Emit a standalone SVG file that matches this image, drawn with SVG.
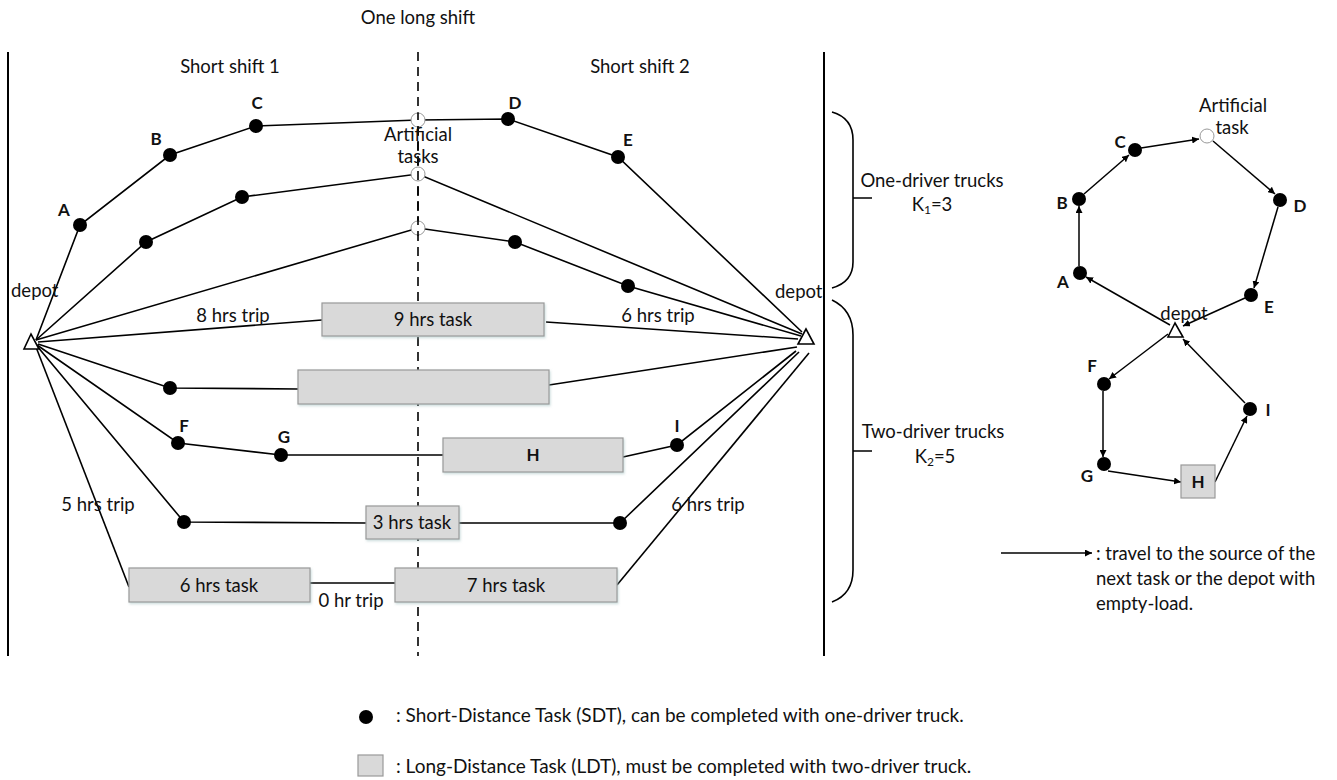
<svg xmlns="http://www.w3.org/2000/svg" width="1337" height="780" viewBox="0 0 1337 780">
<defs>
<marker id="arr" viewBox="0 0 10 10" refX="10" refY="5" markerWidth="7" markerHeight="7" markerUnits="userSpaceOnUse" orient="auto"><path d="M0,0 L10,5 L0,10 Z" fill="#000"/></marker>
<filter id="sh" x="-10%" y="-10%" width="130%" height="140%"><feDropShadow dx="1" dy="1.5" stdDeviation="1" flood-color="#9bb" flood-opacity="0.5"/></filter>
</defs>
<style>
text{font-family:Lato,"Open Sans","Liberation Sans",sans-serif;font-size:18.5px;fill:#111}
.c{text-anchor:middle}
.b{font-weight:bold;font-size:17px}
.s{font-size:19px}
.ln{stroke:#000;stroke-width:1.6;fill:none}
.bar{stroke:#000;stroke-width:2;fill:none}
.dash{stroke:#000;stroke-width:1.6;stroke-dasharray:9,6;fill:none}
.dot{fill:#000}
.art{fill:#fff;stroke:#999;stroke-width:1}
.box{fill:#d9d9d9;stroke:#999;stroke-width:1.2}
.tri{fill:#fff;stroke:#000;stroke-width:1.6}
.ar{stroke:#000;stroke-width:1.5;fill:none;marker-end:url(#arr)}
</style>
<rect width="1337" height="780" fill="#fff"/>

<g id="frame">
<line class="bar" x1="8" y1="52" x2="8" y2="656"/>
<line class="bar" x1="824" y1="52" x2="824" y2="656"/>
<line class="dash" x1="418" y1="52" x2="418" y2="656"/>
<text class="c" x="418" y="24">One long shift</text>
<text class="c" x="230" y="73">Short shift 1</text>
<text class="c" x="640" y="73">Short shift 2</text>
</g>

<g id="connectors">
<polyline class="ln" points="36,340 80,225 170,155 256,126 418,120 508,119 618,157 802,332"/>
<polyline class="ln" points="36,340 146,242 242,197 418,174 802,334"/>
<polyline class="ln" points="36,340 418,228 515,242 628,286 801,336"/>
<polyline class="ln" points="38,342 322,320"/>
<polyline class="ln" points="546,322 798,339"/>
<polyline class="ln" points="38,344 170,388 298,389"/>
<polyline class="ln" points="549,385 797,347"/>
<polyline class="ln" points="37,345 178,443 281,455 443,455"/>
<polyline class="ln" points="623,457 677,445 796,351"/>
<polyline class="ln" points="37,346 184,522 366,523"/>
<polyline class="ln" points="459,523 620,523 799,352"/>
<polyline class="ln" points="36,347 129,587"/>
<polyline class="ln" points="310,583 395,583"/>
<polyline class="ln" points="617,585 809,353"/>
</g>

<g id="depot-left"><polygon class="tri" points="31,334 24,349 39,349"/><text x="11" y="297">depot</text></g>
<g id="depot-right"><polygon class="tri" points="806,329 798,344 814,344"/><text x="775" y="298">depot</text></g>

<g id="node-A"><circle class="dot" cx="80" cy="225" r="7"/><text class="c b" x="64" y="216">A</text></g>
<g id="node-B"><circle class="dot" cx="170" cy="155" r="7"/><text class="c b" x="156" y="145">B</text></g>
<g id="node-C"><circle class="dot" cx="256" cy="126" r="7"/><text class="c b" x="257" y="109">C</text></g>
<g id="node-D"><circle class="dot" cx="508" cy="119" r="7"/><text class="c b" x="515" y="109">D</text></g>
<g id="node-E"><circle class="dot" cx="618" cy="157" r="7"/><text class="c b" x="628" y="146">E</text></g>
<g id="node-r2a"><circle class="dot" cx="146" cy="242" r="7"/></g>
<g id="node-r2b"><circle class="dot" cx="242" cy="197" r="7"/></g>
<g id="node-r3a"><circle class="dot" cx="515" cy="242" r="7"/></g>
<g id="node-r3b"><circle class="dot" cx="628" cy="286" r="7"/></g>
<g id="artificial">
<circle class="art" cx="418" cy="120" r="7"/>
<circle class="art" cx="418" cy="174" r="7"/>
<circle class="art" cx="418" cy="228" r="7"/>
<line class="dash" x1="418" y1="113" x2="418" y2="236" stroke-dashoffset="2"/>
<text class="c" x="418" y="141">Artificial</text>
<text class="c" x="418" y="163">tasks</text>
</g>

<g id="task-9"><rect class="box" x="322" y="303" width="222" height="33" filter="url(#sh)"/><text class="c" x="433" y="326">9 hrs task</text></g>
<text class="c" x="233" y="322">8 hrs trip</text>
<text class="c" x="658" y="322">6 hrs trip</text>
<g id="node-r5"><circle class="dot" cx="170" cy="388" r="7"/></g>
<g id="task-blank"><rect class="box" x="298" y="370" width="251" height="34" filter="url(#sh)"/></g>
<g id="node-F"><circle class="dot" cx="178" cy="443" r="7"/><text class="c b" x="184" y="432">F</text></g>
<g id="node-G"><circle class="dot" cx="281" cy="455" r="7"/><text class="c b" x="284" y="443">G</text></g>
<g id="task-H"><rect class="box" x="443" y="438" width="180" height="34" filter="url(#sh)"/><text class="c b" x="533" y="461">H</text></g>
<g id="node-I"><circle class="dot" cx="677" cy="445" r="7"/><text class="c b" x="677" y="432">I</text></g>
<g id="node-r7a"><circle class="dot" cx="184" cy="522" r="7"/></g>
<g id="task-3"><rect class="box" x="366" y="506" width="93" height="33" filter="url(#sh)"/><text class="c" x="412" y="529">3 hrs task</text></g>
<g id="node-r7b"><circle class="dot" cx="620" cy="523" r="7"/></g>
<g id="task-6"><rect class="box" x="129" y="568" width="181" height="34" filter="url(#sh)"/><text class="c" x="219" y="592">6 hrs task</text></g>
<g id="task-7"><rect class="box" x="395" y="568" width="222" height="34" filter="url(#sh)"/><text class="c" x="506" y="592">7 hrs task</text></g>
<text class="c" x="351" y="607">0 hr trip</text>
<text class="c" x="98" y="511">5 hrs trip</text>
<text class="c" x="708" y="511">6 hrs trip</text>

<g id="braces">
<path class="ln" d="M832,112 Q853,118 853,140 L853,262 Q853,282 832,288 M853,198 L872,198"/>
<path class="ln" d="M832,300 Q853,310 853,335 L853,570 Q853,594 832,602 M853,451 L872,451"/>
<text class="c" x="932" y="187">One-driver trucks</text>
<text class="c" x="932" y="211">K<tspan font-size="12" dy="3">1</tspan><tspan dy="-3">=3</tspan></text>
<text class="c" x="933" y="438">Two-driver trucks</text>
<text class="c" x="935" y="463">K<tspan font-size="12" dy="3">2</tspan><tspan dy="-3">=5</tspan></text>
</g>

<g id="graph-connectors">
<line class="ar" x1="1170" y1="325" x2="1086" y2="277"/>
<line class="ar" x1="1079" y1="266" x2="1079" y2="206"/>
<line class="ar" x1="1084" y1="194" x2="1129" y2="155"/>
<line class="ar" x1="1141" y1="148" x2="1199" y2="139"/>
<line class="ar" x1="1213" y1="141" x2="1275" y2="194"/>
<line class="ar" x1="1278" y1="207" x2="1254" y2="288"/>
<line class="ar" x1="1245" y1="298" x2="1183" y2="326"/>
<line class="ar" x1="1168" y1="334" x2="1109" y2="379"/>
<line class="ar" x1="1103" y1="391" x2="1103" y2="457"/>
<line class="ar" x1="1108" y1="471" x2="1181" y2="482"/>
<line class="ar" x1="1215" y1="482" x2="1247" y2="416"/>
<line class="ar" x1="1245" y1="403" x2="1183" y2="339"/>
</g>
<g id="g-depot"><polygon class="tri" points="1175,323 1168,337 1183,337"/><text class="c" x="1184" y="320">depot</text></g>
<g id="g-A"><circle class="dot" cx="1080" cy="273" r="7"/><text class="c b" x="1063" y="288">A</text></g>
<g id="g-B"><circle class="dot" cx="1079" cy="199" r="7"/><text class="c b" x="1062" y="209">B</text></g>
<g id="g-C"><circle class="dot" cx="1135" cy="150" r="7"/><text class="c b" x="1120" y="148">C</text></g>
<g id="g-art"><circle class="art" cx="1207" cy="136" r="7"/><text class="c" x="1233" y="112">Artificial</text><text class="c" x="1232" y="134">task</text></g>
<g id="g-D"><circle class="dot" cx="1280" cy="200" r="7"/><text class="c b" x="1300" y="212">D</text></g>
<g id="g-E"><circle class="dot" cx="1251" cy="295" r="7"/><text class="c b" x="1269" y="313">E</text></g>
<g id="g-F"><circle class="dot" cx="1104" cy="384" r="7"/><text class="c b" x="1092" y="372">F</text></g>
<g id="g-G"><circle class="dot" cx="1104" cy="464" r="7"/><text class="c b" x="1087" y="482">G</text></g>
<g id="g-H"><rect class="box" x="1181" y="465" width="34" height="33"/><text class="c b" x="1198" y="488">H</text></g>
<g id="g-I"><circle class="dot" cx="1250" cy="409" r="7"/><text class="c b" x="1268" y="416">I</text></g>

<g id="legend">
<line class="ar" x1="1001" y1="553" x2="1092" y2="553"/>
<text x="1096" y="560">: travel to the source of the</text>
<text x="1096" y="585">next task or the depot with</text>
<text x="1096" y="610">empty-load.</text>
<circle class="dot" cx="366" cy="717" r="7"/>
<text class="s" x="396" y="722">: Short-Distance Task (SDT), can be completed with one-driver truck.</text>
<rect class="box" x="358" y="755" width="25" height="21"/>
<text class="s" x="396" y="773">: Long-Distance Task (LDT), must be completed with two-driver truck.</text>
</g>
</svg>
